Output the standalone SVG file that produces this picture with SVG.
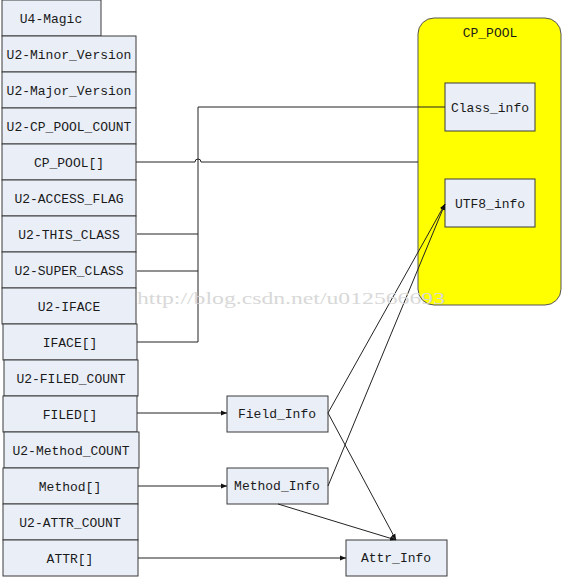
<svg xmlns="http://www.w3.org/2000/svg" width="563" height="577" viewBox="0 0 563 577">
<style>
.box{fill:#e9eef7;stroke:#3a3a3a;stroke-width:1}
.t{font-family:"Liberation Mono","Courier New",monospace;font-size:13px;fill:#1a1a1a;text-anchor:middle}
.c{fill:none;stroke:#222;stroke-width:1}
.wm{font-family:"Liberation Serif",serif;font-size:17px;fill:#d8d8d8}
</style>
<defs>
<marker id="ah" viewBox="0 0 10 10" refX="10" refY="5" markerWidth="6" markerHeight="6" orient="auto" markerUnits="userSpaceOnUse">
<path d="M0,1 L10,5 L0,9 Z" fill="#111"/>
</marker>
</defs>
<rect x="0" y="0" width="563" height="577" fill="#fff"/>

<g id="cp_pool">
<rect x="418" y="18" width="143" height="287" rx="16" fill="#ffff00" stroke="#555" stroke-width="1"/>
<text class="t" x="490" y="37">CP_POOL</text>
</g>
<g id="class_info"><rect class="box" x="445" y="83" width="90" height="48"/><text class="t" x="490" y="112">Class_info</text></g>
<g id="utf8_info"><rect class="box" x="445" y="179" width="90" height="48"/><text class="t" x="490" y="208">UTF8_info</text></g>

<g id="u4_magic"><rect class="box" x="2" y="0" width="99" height="36"/><text class="t" x="51" y="23">U4-Magic</text></g>
<g id="minor"><rect class="box" x="2" y="36" width="134" height="36"/><text class="t" x="69" y="59">U2-Minor_Version</text></g>
<g id="major"><rect class="box" x="2" y="72" width="134" height="36"/><text class="t" x="69" y="95">U2-Major_Version</text></g>
<g id="cp_count"><rect class="box" x="2" y="108" width="134" height="36"/><text class="t" x="69" y="131">U2-CP_POOL_COUNT</text></g>
<g id="cp_pool_arr"><rect class="box" x="2" y="144" width="134" height="36"/><text class="t" x="69" y="167">CP_POOL[]</text></g>
<g id="access"><rect class="box" x="2" y="180" width="134" height="36"/><text class="t" x="69" y="203">U2-ACCESS_FLAG</text></g>
<g id="this_class"><rect class="box" x="2" y="216" width="134" height="36"/><text class="t" x="69" y="239">U2-THIS_CLASS</text></g>
<g id="super_class"><rect class="box" x="2" y="252" width="134" height="36"/><text class="t" x="69" y="275">U2-SUPER_CLASS</text></g>
<g id="iface_count"><rect class="box" x="2" y="288" width="134" height="36"/><text class="t" x="69" y="311">U2-IFACE</text></g>
<g id="iface_arr"><rect class="box" x="3" y="324" width="134" height="36"/><text class="t" x="70" y="347">IFACE[]</text></g>
<g id="filed_count"><rect class="box" x="4" y="360" width="134" height="36"/><text class="t" x="71" y="383">U2-FILED_COUNT</text></g>
<g id="filed_arr"><rect class="box" x="3" y="396" width="134" height="36"/><text class="t" x="70" y="419">FILED[]</text></g>
<g id="method_count"><rect class="box" x="4" y="432" width="135" height="36"/><text class="t" x="71" y="455">U2-Method_COUNT</text></g>
<g id="method_arr"><rect class="box" x="3" y="468" width="135" height="36"/><text class="t" x="70" y="491">Method[]</text></g>
<g id="attr_count"><rect class="box" x="3" y="504" width="135" height="36"/><text class="t" x="70" y="527">U2-ATTR_COUNT</text></g>
<g id="attr_arr"><rect class="box" x="3" y="540" width="135" height="36"/><text class="t" x="70" y="563">ATTR[]</text></g>

<g id="field_info"><rect class="box" x="227" y="396" width="101" height="36"/><text class="t" x="277" y="418">Field_Info</text></g>
<g id="method_info"><rect class="box" x="227" y="468" width="101" height="36"/><text class="t" x="277" y="490">Method_Info</text></g>
<g id="attr_info"><rect class="box" x="346" y="540" width="101" height="36"/><text class="t" x="396" y="562">Attr_Info</text></g>

<g id="connectors">
<path class="c" d="M445,107 H198 V342 H137" stroke-width="1.3"/>
<path class="c" d="M137,234 H198"/>
<path class="c" d="M137,271 H198"/>
<path class="c" d="M136,162 H195 A3,3 0 0 1 201,162 H418"/>
<path class="c" d="M137,413 H227" marker-end="url(#ah)"/>
<path class="c" d="M138,486 H227" marker-end="url(#ah)"/>
<path class="c" d="M138,558 H346" marker-end="url(#ah)"/>
<path class="c" d="M328,413 L445,204" marker-end="url(#ah)"/>
<path class="c" d="M328,486 L445,204" marker-end="url(#ah)"/>
<path class="c" d="M328,413 L396,540" marker-end="url(#ah)"/>
<path class="c" d="M278,504 L396,540" marker-end="url(#ah)"/>
</g>
<text class="wm" x="137" y="304" textLength="308" lengthAdjust="spacingAndGlyphs">http://blog.csdn.net/u012566693</text>
</svg>
